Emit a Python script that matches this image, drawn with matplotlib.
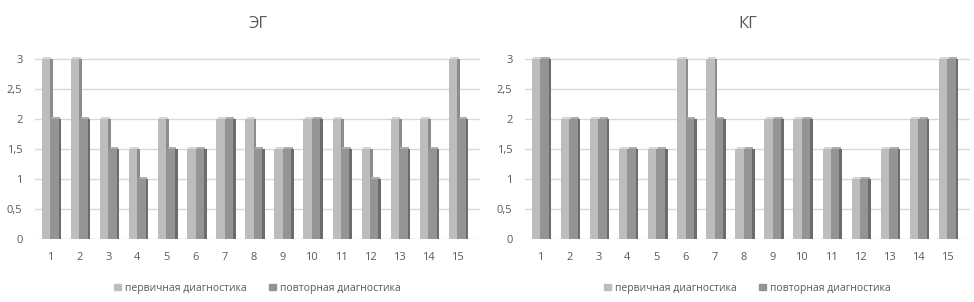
import matplotlib
matplotlib.use("Agg")
import matplotlib.pyplot as plt
from matplotlib.patches import Patch
import numpy as np

plt.rcParams['font.family'] = ['Open Sans', 'DejaVu Sans']

categories = list(range(1, 16))
eg_first = [3, 3, 2, 1.5, 2, 1.5, 2, 2, 1.5, 2, 2, 1.5, 2, 2, 3]
eg_second = [2, 2, 1.5, 1, 1.5, 1.5, 2, 1.5, 1.5, 2, 1.5, 1, 1.5, 1.5, 2]
kg_first = [3, 2, 2, 1.5, 1.5, 3, 3, 1.5, 2, 2, 1.5, 1, 1.5, 2, 3]
kg_second = [3, 2, 2, 1.5, 1.5, 2, 2, 1.5, 2, 2, 1.5, 1, 1.5, 2, 3]
series_names = ["первичная диагностика", "повторная диагностика"]
yticks = [0, 0.5, 1, 1.5, 2, 2.5, 3]
ytick_labels = ["0", "0,5", "1", "1,5", "2", "2,5", "3"]

txt = '#595959'
c1_front, c1_side, c1_top = '#bdbdbd', '#8c8c8c', '#d6d6d6'
c2_front, c2_side, c2_top = '#949494', '#6c6c6c', '#adadad'

fig = plt.figure(figsize=(9.74, 3.02), dpi=100)


def draw(ax, title, first, second):
    x = np.array(categories)
    w = 0.29
    d = 0.09
    # first series: front face, side face, top face
    ax.bar(x - w, first, width=w, align='edge', color=c1_front, zorder=3)
    ax.bar(x, first, width=d, align='edge', color=c1_side, zorder=3)
    ax.bar(x - w + d / 2, [0.04] * len(x), bottom=np.array(first), width=w,
           align='edge', color=c1_top, zorder=3)
    # second series
    ax.bar(x, second, width=w, align='edge', color=c2_front, zorder=4)
    ax.bar(x + w, second, width=d, align='edge', color=c2_side, zorder=4)
    ax.bar(x + d / 2, [0.04] * len(x), bottom=np.array(second), width=w,
           align='edge', color=c2_top, zorder=4)

    ax.set_xlim(0.48, 15.78)
    ax.set_ylim(0, 3.03)
    ax.set_yticks(yticks)
    ax.set_yticklabels(ytick_labels)
    ax.set_xticks(x)
    ax.set_xticklabels([str(c) for c in categories])
    ax.grid(axis='y', color='#d9d9d9', linewidth=1, zorder=0)
    ax.set_axisbelow(True)
    for s in ax.spines.values():
        s.set_visible(False)
    ax.tick_params(axis='y', length=0, pad=9, labelsize=8, labelcolor=txt)
    ax.tick_params(axis='x', length=0, pad=9, labelsize=8, labelcolor=txt)
    ax.set_title(title, fontsize=12, color=txt, pad=21)

    handles = [Patch(color=c1_front), Patch(color=c2_front)]
    ax.legend(handles, series_names, loc='center', bbox_to_anchor=(0.5, -0.27),
              ncol=2, frameon=False, fontsize=7.5, labelcolor=txt,
              handlelength=0.6, handleheight=0.6, handletextpad=0.4,
              columnspacing=2.2)


ax1 = fig.add_axes([35 / 974, 63 / 302, 445 / 974, 181.8 / 302])
ax2 = fig.add_axes([525 / 974, 63 / 302, 445 / 974, 181.8 / 302])
draw(ax1, "ЭГ", eg_first, eg_second)
draw(ax2, "КГ", kg_first, kg_second)

fig.savefig("out.png", dpi=100)
